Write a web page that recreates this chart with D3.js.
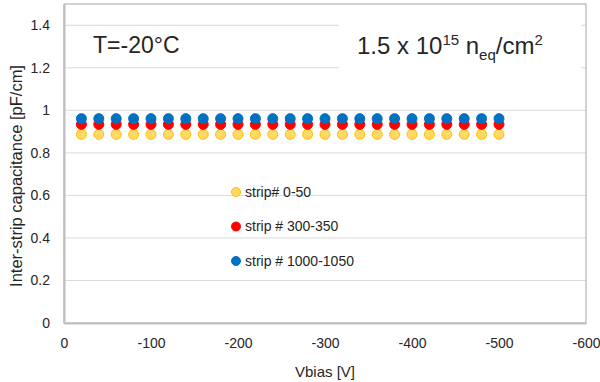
<!DOCTYPE html>
<html>
<head>
<meta charset="utf-8">
<script src="https://cdn.jsdelivr.net/npm/d3@7"></script>
<style>
  body { margin: 0; background: #fff; }
  text { font-family: "Liberation Sans", Arial, sans-serif; fill: #262626; }
</style>
</head>
<body>
<div id="chart"></div>
<script>
// bias voltage [V]
const vbias = [-20, -40, -60, -80, -100, -120, -140, -160, -180, -200, -220, -240, -260,
  -280, -300, -320, -340, -360, -380, -400, -420, -440, -460, -480, -500];

// inter-strip capacitance [pF/cm] for each strip group
const capStrip0 = [0.887, 0.887, 0.887, 0.887, 0.887, 0.887, 0.887, 0.887, 0.887, 0.887, 0.887, 0.887, 0.887,
  0.887, 0.887, 0.887, 0.887, 0.887, 0.887, 0.887, 0.887, 0.887, 0.887, 0.887, 0.887];
const capStrip300 = [0.934, 0.934, 0.934, 0.934, 0.934, 0.934, 0.934, 0.934, 0.934, 0.934, 0.934, 0.934, 0.934,
  0.934, 0.934, 0.934, 0.934, 0.934, 0.934, 0.934, 0.934, 0.934, 0.934, 0.934, 0.934];
const capStrip1000 = [0.961, 0.961, 0.961, 0.961, 0.961, 0.961, 0.961, 0.961, 0.961, 0.961, 0.961, 0.961, 0.961,
  0.961, 0.961, 0.961, 0.961, 0.961, 0.961, 0.961, 0.961, 0.961, 0.961, 0.961, 0.961];

const seriesNames = ["strip# 0-50", "strip # 300-350", "strip # 1000-1050"];
const yTicks = [0, 0.2, 0.4, 0.6, 0.8, 1, 1.2, 1.4];
const yTickLabels = ["0", "0.2", "0.4", "0.6", "0.8", "1", "1.2", "1.4"];
const xTicks = [0, -100, -200, -300, -400, -500, -600];
const xTickLabels = ["0", "-100", "-200", "-300", "-400", "-500", "-600"];

const width = 600, height = 382;
const margin = {top: 4, right: 14, bottom: 59, left: 64};

const svg = d3.select("#chart")
  .append("svg")
    .attr("width", width)
    .attr("height", height);

const x = d3.scaleLinear()
  .domain([0, -600])
  .range([margin.left, width - margin.right]);

const y = d3.scaleLinear()
  .domain([0, 1.5])
  .range([height - margin.bottom, margin.top]);

// gridlines
svg.append("g")
  .selectAll("line")
  .data(yTicks.filter(d => d > 0))
  .enter()
  .append("line")
    .attr("x1", x(0))
    .attr("x2", x(-600))
    .attr("y1", d => y(d))
    .attr("y2", d => y(d))
    .attr("stroke", "#d9d9d9")
    .attr("stroke-width", 1);

// plot area frame
svg.append("rect")
  .attr("x", x(0))
  .attr("y", y(1.5))
  .attr("width", x(-600) - x(0))
  .attr("height", y(0) - y(1.5))
  .attr("fill", "none")
  .attr("stroke", "#a6a6a6")
  .attr("stroke-width", 1);

// axes
const yAxis = svg.append("g")
  .attr("transform", `translate(${x(0)}, 0)`)
  .call(d3.axisLeft(y).tickValues(yTicks).tickSize(0).tickPadding(14)
    .tickFormat((d, i) => yTickLabels[i]));
yAxis.select(".domain").attr("stroke", "#bfbfbf").attr("stroke-width", 2);
yAxis.selectAll("text").attr("font-size", 14).attr("fill", "#262626")
  .attr("font-family", "Liberation Sans, Arial, sans-serif");

const xAxis = svg.append("g")
  .attr("transform", `translate(0, ${y(0)})`)
  .call(d3.axisBottom(x).tickValues(xTicks).tickSize(0).tickPadding(15)
    .tickFormat((d, i) => xTickLabels[i]));
xAxis.select(".domain").attr("stroke", "#bfbfbf").attr("stroke-width", 2);
xAxis.selectAll("text").attr("font-size", 14).attr("fill", "#262626")
  .attr("font-family", "Liberation Sans, Arial, sans-serif");

// axis titles
svg.append("text")
  .attr("text-anchor", "middle")
  .attr("x", (x(0) + x(-600)) / 2)
  .attr("y", 377)
  .attr("font-size", 15)
  .text("Vbias [V]");

svg.append("text")
  .attr("text-anchor", "middle")
  .attr("transform", "translate(22, 176) rotate(-90)")
  .attr("font-size", 16.5)
  .text("Inter-strip capacitance [pF/cm]");

// data
const series = [
  {name: seriesNames[0], values: capStrip0, fill: "#ffd966", stroke: "#ffc000"},
  {name: seriesNames[1], values: capStrip300, fill: "#ff0000", stroke: "#ff0000"},
  {name: seriesNames[2], values: capStrip1000, fill: "#0070c0", stroke: "#0070c0"}
];

series.forEach(function(s) {
  svg.append("g")
    .selectAll("circle")
    .data(vbias.map((v, i) => ({v: v, c: s.values[i]})))
    .enter()
    .append("circle")
      .attr("cx", d => x(d.v))
      .attr("cy", d => y(d.c))
      .attr("r", 5)
      .attr("fill", s.fill)
      .attr("stroke", s.stroke)
      .attr("stroke-width", 1);
});

// legend
const legend = svg.append("g");
series.forEach(function(s, i) {
  legend.append("circle")
    .attr("cx", 236)
    .attr("cy", 192 + i * 34.5)
    .attr("r", 4.5)
    .attr("fill", s.fill)
    .attr("stroke", s.stroke);
  legend.append("text")
    .attr("x", 245)
    .attr("y", 192 + i * 34.5)
    .attr("dy", "0.35em")
    .attr("font-size", 14)
    .text(s.name);
});

// annotations
svg.append("text")
  .attr("x", 93)
  .attr("y", 53)
  .attr("font-size", 23)
  .attr("fill", "#000")
  .text("T=-20°C");

svg.append("rect")
  .attr("x", 339)
  .attr("y", 14)
  .attr("width", 242)
  .attr("height", 62)
  .attr("fill", "#fff");

const fluence = svg.append("text")
  .attr("x", 357)
  .attr("y", 54)
  .attr("font-size", 24)
  .attr("fill", "#000");
fluence.append("tspan").text("1.5 x 10");
fluence.append("tspan").attr("font-size", 15).attr("dy", -9).text("15");
fluence.append("tspan").attr("dy", 9).text(" n");
fluence.append("tspan").attr("font-size", 15).attr("dy", 6).text("eq");
fluence.append("tspan").attr("dy", -6).text("/cm");
fluence.append("tspan").attr("font-size", 15).attr("dy", -9).text("2");
</script>
</body>
</html>
